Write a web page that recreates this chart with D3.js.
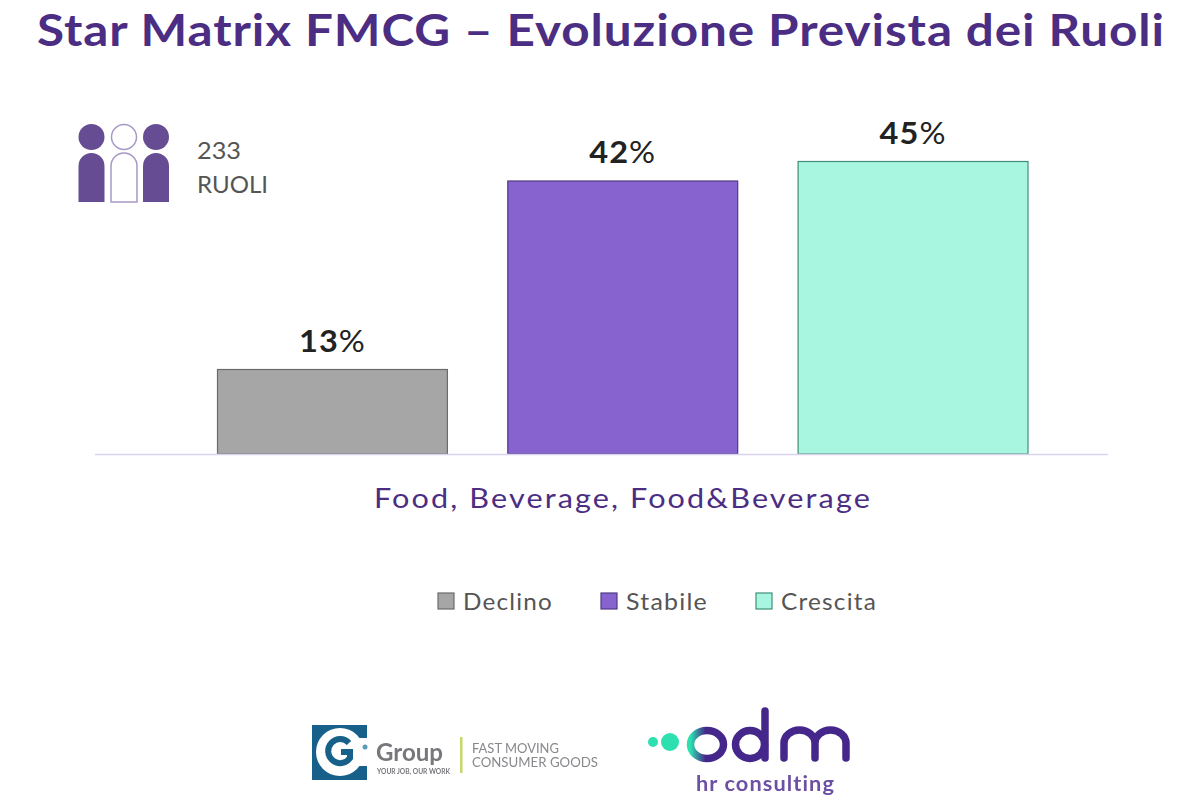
<!DOCTYPE html>
<html>
<head>
<meta charset="utf-8">
<script src="https://cdn.jsdelivr.net/npm/d3@7"></script>
<style>
  html, body { margin: 0; background: #fff; }
  svg { display: block; }
  text { font-family: Lato, "Open Sans", sans-serif; }
</style>
</head>
<body>
<script>
let width = 1200;
let height = 800;

let categories = ['Declino', 'Stabile', 'Crescita'];
let values = [13, 42, 45];
let fills = ['#a6a6a6', '#8763cf', '#a8f5e0'];
let strokes = ['#6b6b6b', '#4f3a85', '#3f8f78'];
let groupLabel = 'Food, Beverage, Food&Beverage';
let titleText = 'Star Matrix FMCG – Evoluzione Prevista dei Ruoli';
let roleLines = ['233', 'RUOLI'];
let purple = '#4b2e83';

let svg = d3.select('body').append('svg').attr('width', width).attr('height', height);

let defs = svg.append('defs');
defs.append('filter').attr('id', 'soft').append('feGaussianBlur').attr('stdDeviation', 0.7);
let grad = defs.append('linearGradient').attr('id', 'odmGrad');
grad.append('stop').attr('offset', '0').attr('stop-color', '#2fe0b0');
grad.append('stop').attr('offset', '0.45').attr('stop-color', '#45288a');

svg.append('text').attr('x', 601).attr('y', 46).attr('text-anchor', 'middle')
  .attr('font-size', 43).attr('font-weight', 700).attr('fill', purple).attr('letter-spacing', 0.8)
  .attr('textLength', 1128).attr('lengthAdjust', 'spacingAndGlyphs').text(titleText);

let x = d3.scaleBand().domain(categories).range([217.5, 1028]).paddingInner(0.208).paddingOuter(0);
let y = d3.scaleLinear().domain([0, 45]).range([454, 161.5]);
let color = d3.scaleOrdinal().domain(categories).range(fills);
let edge = d3.scaleOrdinal().domain(categories).range(strokes);

svg.selectAll('.bar').data(categories).enter().append('rect').attr('class', 'bar')
  .attr('x', d => x(d)).attr('width', x.bandwidth())
  .attr('y', (d, i) => y(values[i])).attr('height', (d, i) => y(0) - y(values[i]))
  .attr('fill', d => color(d)).attr('stroke', d => edge(d)).attr('stroke-width', 1.2);

let labels = svg.selectAll('.val').data(categories).enter().append('text').attr('class', 'val')
  .attr('x', d => x(d) + x.bandwidth() / 2).attr('y', (d, i) => y(values[i]) - 18)
  .attr('text-anchor', 'middle').attr('font-size', 30).attr('fill', '#222').attr('letter-spacing', 1)
  .attr('textLength', 67).attr('lengthAdjust', 'spacingAndGlyphs');
labels.append('tspan').attr('font-weight', 700).text((d, i) => values[i]);
labels.append('tspan').text('%');

// baseline
svg.append('line').attr('x1', 95).attr('x2', 1108).attr('y1', 454.5).attr('y2', 454.5)
  .attr('stroke', '#d9d3ee').attr('stroke-width', 1.5);

svg.append('text').attr('x', 623).attr('y', 508).attr('text-anchor', 'middle')
  .attr('font-size', 26).attr('fill', purple).attr('letter-spacing', 1.8)
  .attr('textLength', 498).attr('lengthAdjust', 'spacingAndGlyphs').text(groupLabel);

// legend
let legendX = [438, 601, 756];
let legendW = [90, 82, 96];
let legend = svg.selectAll('.legend').data(categories).enter().append('g').attr('class', 'legend')
  .attr('transform', (d, i) => 'translate(' + legendX[i] + ',593)');
legend.append('rect').attr('width', 16).attr('height', 16)
  .attr('fill', d => color(d)).attr('stroke', d => edge(d)).attr('stroke-width', 1.2);
legend.append('text').attr('x', 25).attr('y', 17).attr('font-size', 24).attr('fill', '#555').attr('letter-spacing', 1.2)
  .attr('textLength', (d, i) => legendW[i]).attr('lengthAdjust', 'spacingAndGlyphs').text(d => d);

// icon with the three people
let people = [{cx: 91.5, solid: true}, {cx: 124, solid: false}, {cx: 156, solid: true}];
let icon = svg.append('g');
people.forEach(p => {
  let fill = p.solid ? '#664c93' : '#fff';
  let stroke = p.solid ? '#664c93' : '#a898c6';
  icon.append('circle').attr('cx', p.cx).attr('cy', 137).attr('r', p.solid ? 13 : 12.5)
    .attr('fill', fill).attr('stroke', stroke).attr('stroke-width', p.solid ? 0 : 1.5);
  icon.append('path')
    .attr('d', 'M' + (p.cx - 13) + ' 202V166a13 13 0 0 1 26 0V202Z')
    .attr('fill', fill).attr('stroke', stroke).attr('stroke-width', p.solid ? 0 : 1.5);
});
let roleW = [44, 71];
svg.selectAll('.role').data(roleLines).enter().append('text').attr('class', 'role')
  .attr('x', 197).attr('y', (d, i) => 159 + i * 34).attr('font-size', 23).attr('fill', '#555')
  .attr('textLength', (d, i) => roleW[i]).attr('lengthAdjust', 'spacingAndGlyphs')
  .text(d => d);

// Gi Group logo
let gi = svg.append('g').attr('filter', 'url(#soft)');
gi.append('rect').attr('x', 312).attr('y', 725).attr('width', 55).attr('height', 55).attr('fill', '#14618a');
gi.append('circle').attr('cx', 340).attr('cy', 752).attr('r', 24).attr('fill', '#fff');
gi.append('rect').attr('x', 352).attr('y', 738).attr('width', 16).attr('height', 28).attr('fill', '#fff');
gi.append('path').attr('d', 'M349 743a12 12 0 1 0 1 15v-6h-9').attr('fill', 'none').attr('stroke', '#14618a').attr('stroke-width', 6);
gi.append('circle').attr('cx', 365).attr('cy', 747).attr('r', 2.5).attr('fill', '#5a9ab8');
gi.append('text').attr('x', 376).attr('y', 761).attr('font-size', 25).attr('font-weight', 700).attr('fill', '#77777b')
  .attr('textLength', 67).attr('lengthAdjust', 'spacingAndGlyphs').text('Group');
gi.append('text').attr('x', 377).attr('y', 774).attr('font-size', 6.5).attr('font-weight', 700).attr('fill', '#77777b')
  .attr('textLength', 73).attr('lengthAdjust', 'spacingAndGlyphs').text('YOUR JOB, OUR WORK');
gi.append('rect').attr('x', 460).attr('y', 737).attr('width', 2.5).attr('height', 36).attr('fill', '#c4d96a');
gi.append('text').attr('x', 472).attr('y', 753).attr('font-size', 13).attr('fill', '#88888c')
  .attr('textLength', 87).attr('lengthAdjust', 'spacingAndGlyphs').text('FAST MOVING');
gi.append('text').attr('x', 472).attr('y', 767).attr('font-size', 13).attr('fill', '#88888c')
  .attr('textLength', 126).attr('lengthAdjust', 'spacingAndGlyphs').text('CONSUMER GOODS');

// odm logo
let odm = svg.append('g').attr('filter', 'url(#soft)');
odm.append('circle').attr('cx', 653).attr('cy', 742).attr('r', 5).attr('fill', '#2fe0b0');
odm.append('circle').attr('cx', 670).attr('cy', 742).attr('r', 9).attr('fill', '#2fe0b0');
odm.append('ellipse').attr('cx', 707).attr('cy', 744.5).attr('rx', 16.5).attr('ry', 14).attr('fill', 'none')
  .attr('stroke', 'url(#odmGrad)').attr('stroke-width', 7.5);
odm.append('ellipse').attr('cx', 750).attr('cy', 744.5).attr('rx', 14.5).attr('ry', 14).attr('fill', 'none')
  .attr('stroke', '#45288a').attr('stroke-width', 7.5);
odm.append('line').attr('x1', 765).attr('x2', 765).attr('y1', 711).attr('y2', 758)
  .attr('stroke', '#45288a').attr('stroke-width', 7.5).attr('stroke-linecap', 'round');
odm.append('path').attr('d', 'M784 758V743a15.5 13 0 0 1 31 0V758M815 743a15.5 13 0 0 1 31 0V758')
  .attr('fill', 'none').attr('stroke', '#45288a').attr('stroke-width', 7.5).attr('stroke-linecap', 'round');
odm.append('text').attr('x', 696).attr('y', 791).attr('font-size', 20).attr('font-weight', 700).attr('fill', '#6d4fa3').attr('letter-spacing', 1)
  .attr('textLength', 139).attr('lengthAdjust', 'spacingAndGlyphs').text('hr consulting');
</script>
</body>
</html>
